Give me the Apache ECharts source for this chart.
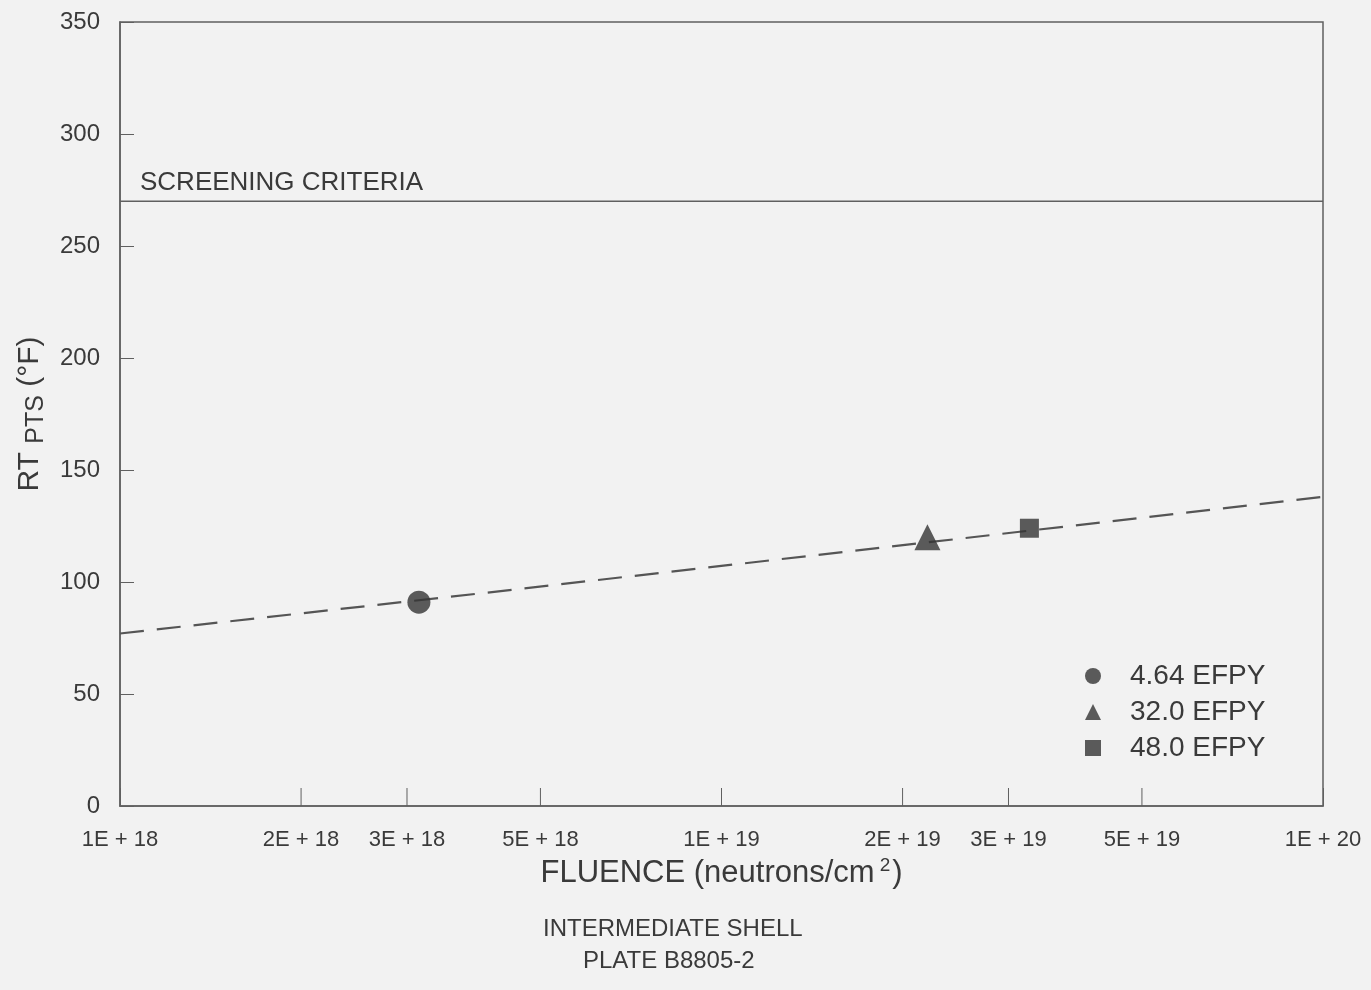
<!DOCTYPE html>
<html>
<head>
<meta charset="utf-8">
<script src="https://cdn.jsdelivr.net/npm/echarts@6/dist/echarts.min.js"></script>
<style>
html,body{margin:0;padding:0;background:#f2f2f2;}
#chart{width:1371px;height:990px;}
</style>
</head>
<body>
<div id="chart"></div>
<script>
// ---- data ----
const seriesNames = ['4.64 EFPY', '32.0 EFPY', '48.0 EFPY'];
const circlePts = [[3.14e18, 91]];
const trianglePts = [[2.2e19, 120]];
const squarePts = [[3.25e19, 124]];
const trendLine = [[1e18, 77], [4e18, 95], [1.8e19, 115], [1e20, 138]];
const screeningValue = 270;
const screeningLine = [[1e18, screeningValue], [1e20, screeningValue]];
const majorTicks = [1e18, 1e19, 1e20];
const minorTicks = [2e18, 3e18, 5e18, 2e19, 3e19, 5e19];
const yTicks = [0, 50, 100, 150, 200, 250, 300, 350];

const FONT = '"Liberation Sans", Arial, Helvetica, sans-serif';
const INK = '#3a3a3a';
const LINE = '#606060';

function fmtTick(v) {
  const e = Math.floor(Math.log10(v) + 1e-9);
  const m = Math.round(v / Math.pow(10, e));
  return m + 'E + ' + e;
}

const chart = echarts.init(document.getElementById('chart'));
chart.setOption({
  backgroundColor: '#f2f2f2',
  animation: false,
  textStyle: { fontFamily: FONT, color: INK },
  grid: {
    left: 120, right: 48, top: 22, bottom: 184,
    show: true, borderColor: LINE, borderWidth: 1.5, backgroundColor: 'transparent'
  },
  legend: {
    orient: 'vertical',
    left: 1080, top: 657,
    itemWidth: 16, itemHeight: 16, itemGap: 8,
    data: [
      { name: seriesNames[0], icon: 'circle' },
      { name: seriesNames[1], icon: 'triangle' },
      { name: seriesNames[2], icon: 'rect' }
    ],
    textStyle: { fontSize: 28, color: INK, fontFamily: FONT, padding: [0, 0, 0, 24] }
  },
  xAxis: {
    type: 'log',
    logBase: 10,
    min: majorTicks[0],
    max: majorTicks[majorTicks.length - 1],
    name: 'FLUENCE (neutrons/cm{sup|2})',
    nameLocation: 'middle',
    nameGap: 50,
    nameTextStyle: {
      fontSize: 31, color: INK, fontFamily: FONT,
      rich: { sup: { fontSize: 19, color: INK, fontFamily: FONT, padding: [0, 2, 16, 5] } }
    },
    axisLine: { show: true, lineStyle: { color: LINE, width: 1.5 } },
    axisTick: { show: true, inside: true, length: 18, lineStyle: { color: LINE, width: 1 } },
    axisLabel: {
      show: true, margin: 23, fontSize: 22, color: INK, fontFamily: FONT,
      formatter: v => fmtTick(v)
    },
    splitLine: { show: false },
    minorTick: { show: false }
  },
  yAxis: {
    type: 'value',
    min: yTicks[0],
    max: yTicks[yTicks.length - 1],
    interval: 50,
    name: '{a|RT }{s|PTS}{a| (°F)}',
    nameLocation: 'middle',
    nameRotate: 90,
    nameGap: 70,
    nameTextStyle: {
      rich: {
        a: { fontSize: 30, color: INK, fontFamily: FONT },
        s: { fontSize: 25, color: INK, fontFamily: FONT, padding: [14, 0, 0, 0] }
      }
    },
    axisLine: { show: true, lineStyle: { color: LINE, width: 1.5 } },
    axisTick: { show: true, inside: true, length: 14, lineStyle: { color: LINE, width: 1 } },
    axisLabel: { margin: 20, fontSize: 24, color: INK, fontFamily: FONT },
    splitLine: { show: false }
  },
  graphic: [
    { type: 'text', left: 140, top: 170,
      style: { text: 'SCREENING CRITERIA', font: '26px ' + FONT, fill: INK } },
    { type: 'text', left: 543, top: 917,
      style: { text: 'INTERMEDIATE SHELL', font: '24px ' + FONT, fill: INK } },
    { type: 'text', left: 583, top: 949,
      style: { text: 'PLATE B8805-2', font: '24px ' + FONT, fill: INK } }
  ],
  series: [
    {
      type: 'line', name: 'screening', data: screeningLine,
      symbol: 'none', silent: true,
      lineStyle: { color: LINE, width: 1.5, type: 'solid' }
    },
    {
      type: 'line', name: 'trend', data: trendLine,
      symbol: 'none', silent: true, smooth: false,
      lineStyle: { color: '#555', width: 2.2, type: [24, 13] }
    },
    {
      type: 'scatter', name: seriesNames[0], data: circlePts,
      symbol: 'circle', symbolSize: 23, itemStyle: { color: '#333' }, z: 5
    },
    {
      type: 'scatter', name: seriesNames[1], data: trianglePts,
      symbol: 'triangle', symbolSize: 26, itemStyle: { color: '#333' }, z: 5
    },
    {
      type: 'scatter', name: seriesNames[2], data: squarePts,
      symbol: 'rect', symbolSize: 19, itemStyle: { color: '#333' }, z: 5
    },
    {
      type: 'custom', name: 'minorTicks', silent: true, clip: false,
      data: minorTicks.map(v => [v, 0]),
      encode: { x: 0, y: 1 },
      renderItem: function (params, api) {
        const p = api.coord([api.value(0), 0]);
        return {
          type: 'group',
          children: [
            { type: 'line', shape: { x1: p[0], y1: p[1], x2: p[0], y2: p[1] - 18 },
              style: { stroke: LINE, lineWidth: 1 } },
            { type: 'text',
              style: { text: fmtTick(api.value(0)), x: p[0], y: p[1] + 23,
                       textAlign: 'center', textVerticalAlign: 'top',
                       font: '22px ' + FONT, fill: INK } }
          ]
        };
      }
    }
  ]
});
</script>
</body>
</html>
